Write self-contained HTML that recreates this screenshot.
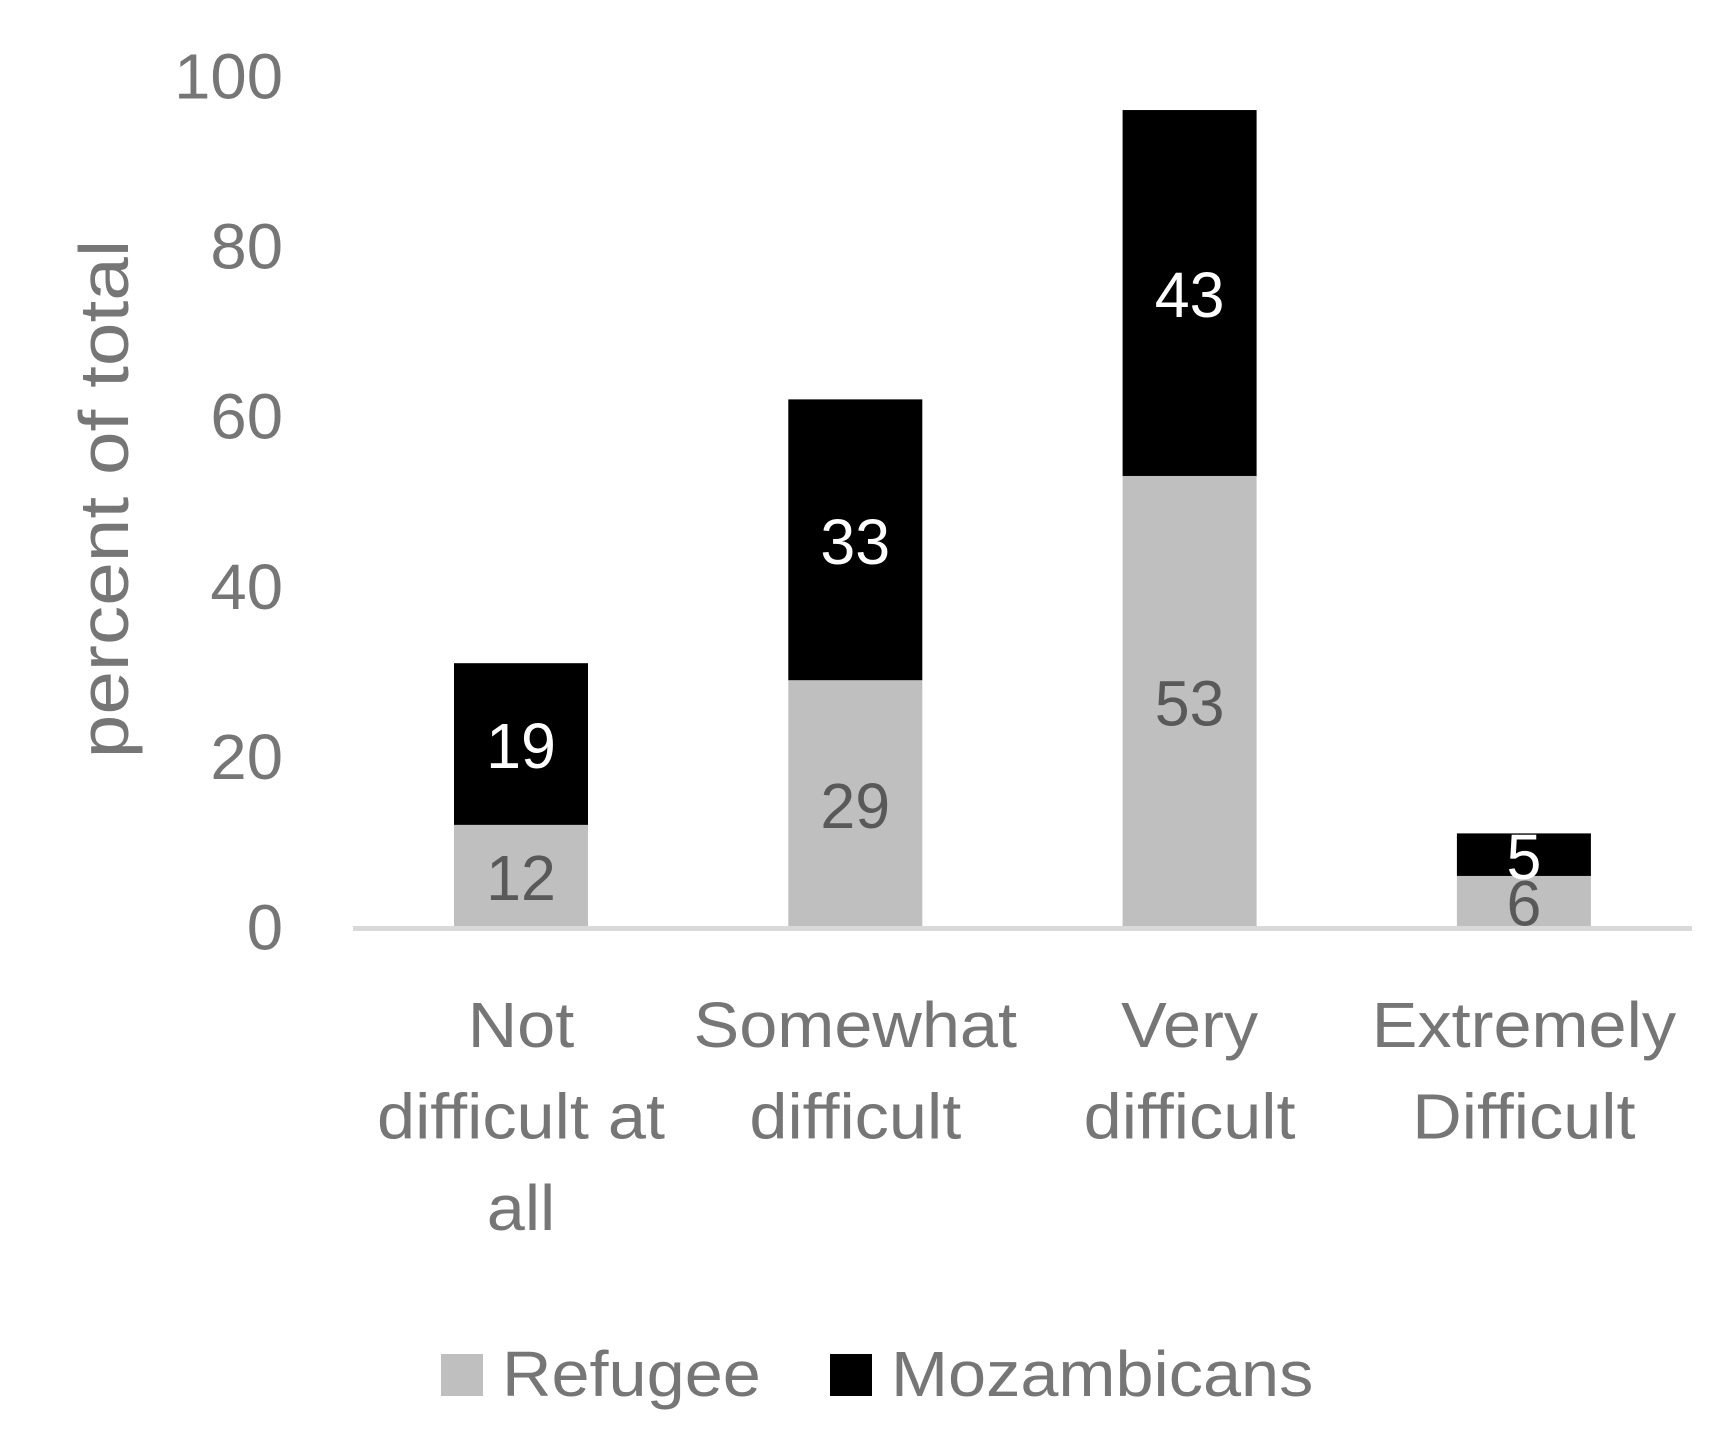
<!DOCTYPE html>
<html><head><meta charset="utf-8"><style>
html,body{margin:0;padding:0;background:#fff;}
svg{display:block;font-family:"Liberation Sans",sans-serif;}
</style></head><body>
<svg id="chart" width="1720" height="1449" viewBox="0 0 1720 1449" xmlns="http://www.w3.org/2000/svg"></svg>
<script>
const categories = [["Not","difficult at","all"],["Somewhat","difficult"],["Very","difficult"],["Extremely","Difficult"]];
const refugee = [12, 29, 53, 6];
const mozambicans = [19, 33, 43, 5];
const yTicks = [0, 20, 40, 60, 80, 100];
const seriesNames = ["Refugee", "Mozambicans"];

const NS = "http://www.w3.org/2000/svg";
const svg = document.getElementById("chart");
const y0 = 927, pxPerUnit = 8.51;
function yScale(v){ return y0 - v * pxPerUnit; }
function xCenter(i){ return 521 + i * 334.3; }
const barW = 134;

function mk(tag, attrs, parent){
  const el = document.createElementNS(NS, tag);
  for (const k in attrs) el.setAttribute(k, attrs[k]);
  (parent || svg).appendChild(el);
  return el;
}
function txt(str, x, y, size, fill, anchor, sx){
  const t = mk("text", {transform:`translate(${x},${y}) scale(${sx},1)`, "font-size":size, fill:fill, "text-anchor":anchor || "middle", "dominant-baseline":"central"});
  t.textContent = str;
  return t;
}

// y tick labels
yTicks.forEach(v => {
  const t = txt(String(v), 283, yScale(v), 64, "#767676", "end", 1.02);
  
  
});

// y-axis title
const yt = mk("text", {transform:"translate(104,499) rotate(-90) scale(1.12,1)", "font-size":70, fill:"#767676", "text-anchor":"middle", "dominant-baseline":"central"});
yt.textContent = "percent of total";



// bars
categories.forEach((cat, i) => {
  const cx = xCenter(i);
  const r = refugee[i], m = mozambicans[i];
  const rb = mk("rect", {x:cx - barW/2, y:yScale(r), width:barW, height:r*pxPerUnit, fill:"#bfbfbf"});
  
  
  const mb = mk("rect", {x:cx - barW/2, y:yScale(r + m), width:barW, height:m*pxPerUnit, fill:"#000"});
  
  
  const rl = txt(String(r), cx, yScale(r/2) + 3, 64, "#595959", "middle", 0.98);
  
  
  const ml = txt(String(m), cx, yScale(r + m/2) + 3, 64, "#fff", "middle", 0.98);
  
  
  cat.forEach((line, j) => {
    const cl = txt(line, cx, 1026 + j*91.5, 64, "#767676", "middle", 1.07);
    
    
  });
});

// axis line
const ax = mk("rect", {x:353, y:926, width:1339, height:5, fill:"#d9d9d9"});



// legend
const legColors = ["#bfbfbf", "#000"];
const legSq = [441, 830];
seriesNames.forEach((n, i) => {
  const sq = mk("rect", {x:legSq[i], y:1354, width:42, height:42, fill:legColors[i]});
  
  
  const lt = txt(n, legSq[i] + 61, 1375, 64, "#767676", "start", 1.07);
  
  
});
</script>
</body></html>
